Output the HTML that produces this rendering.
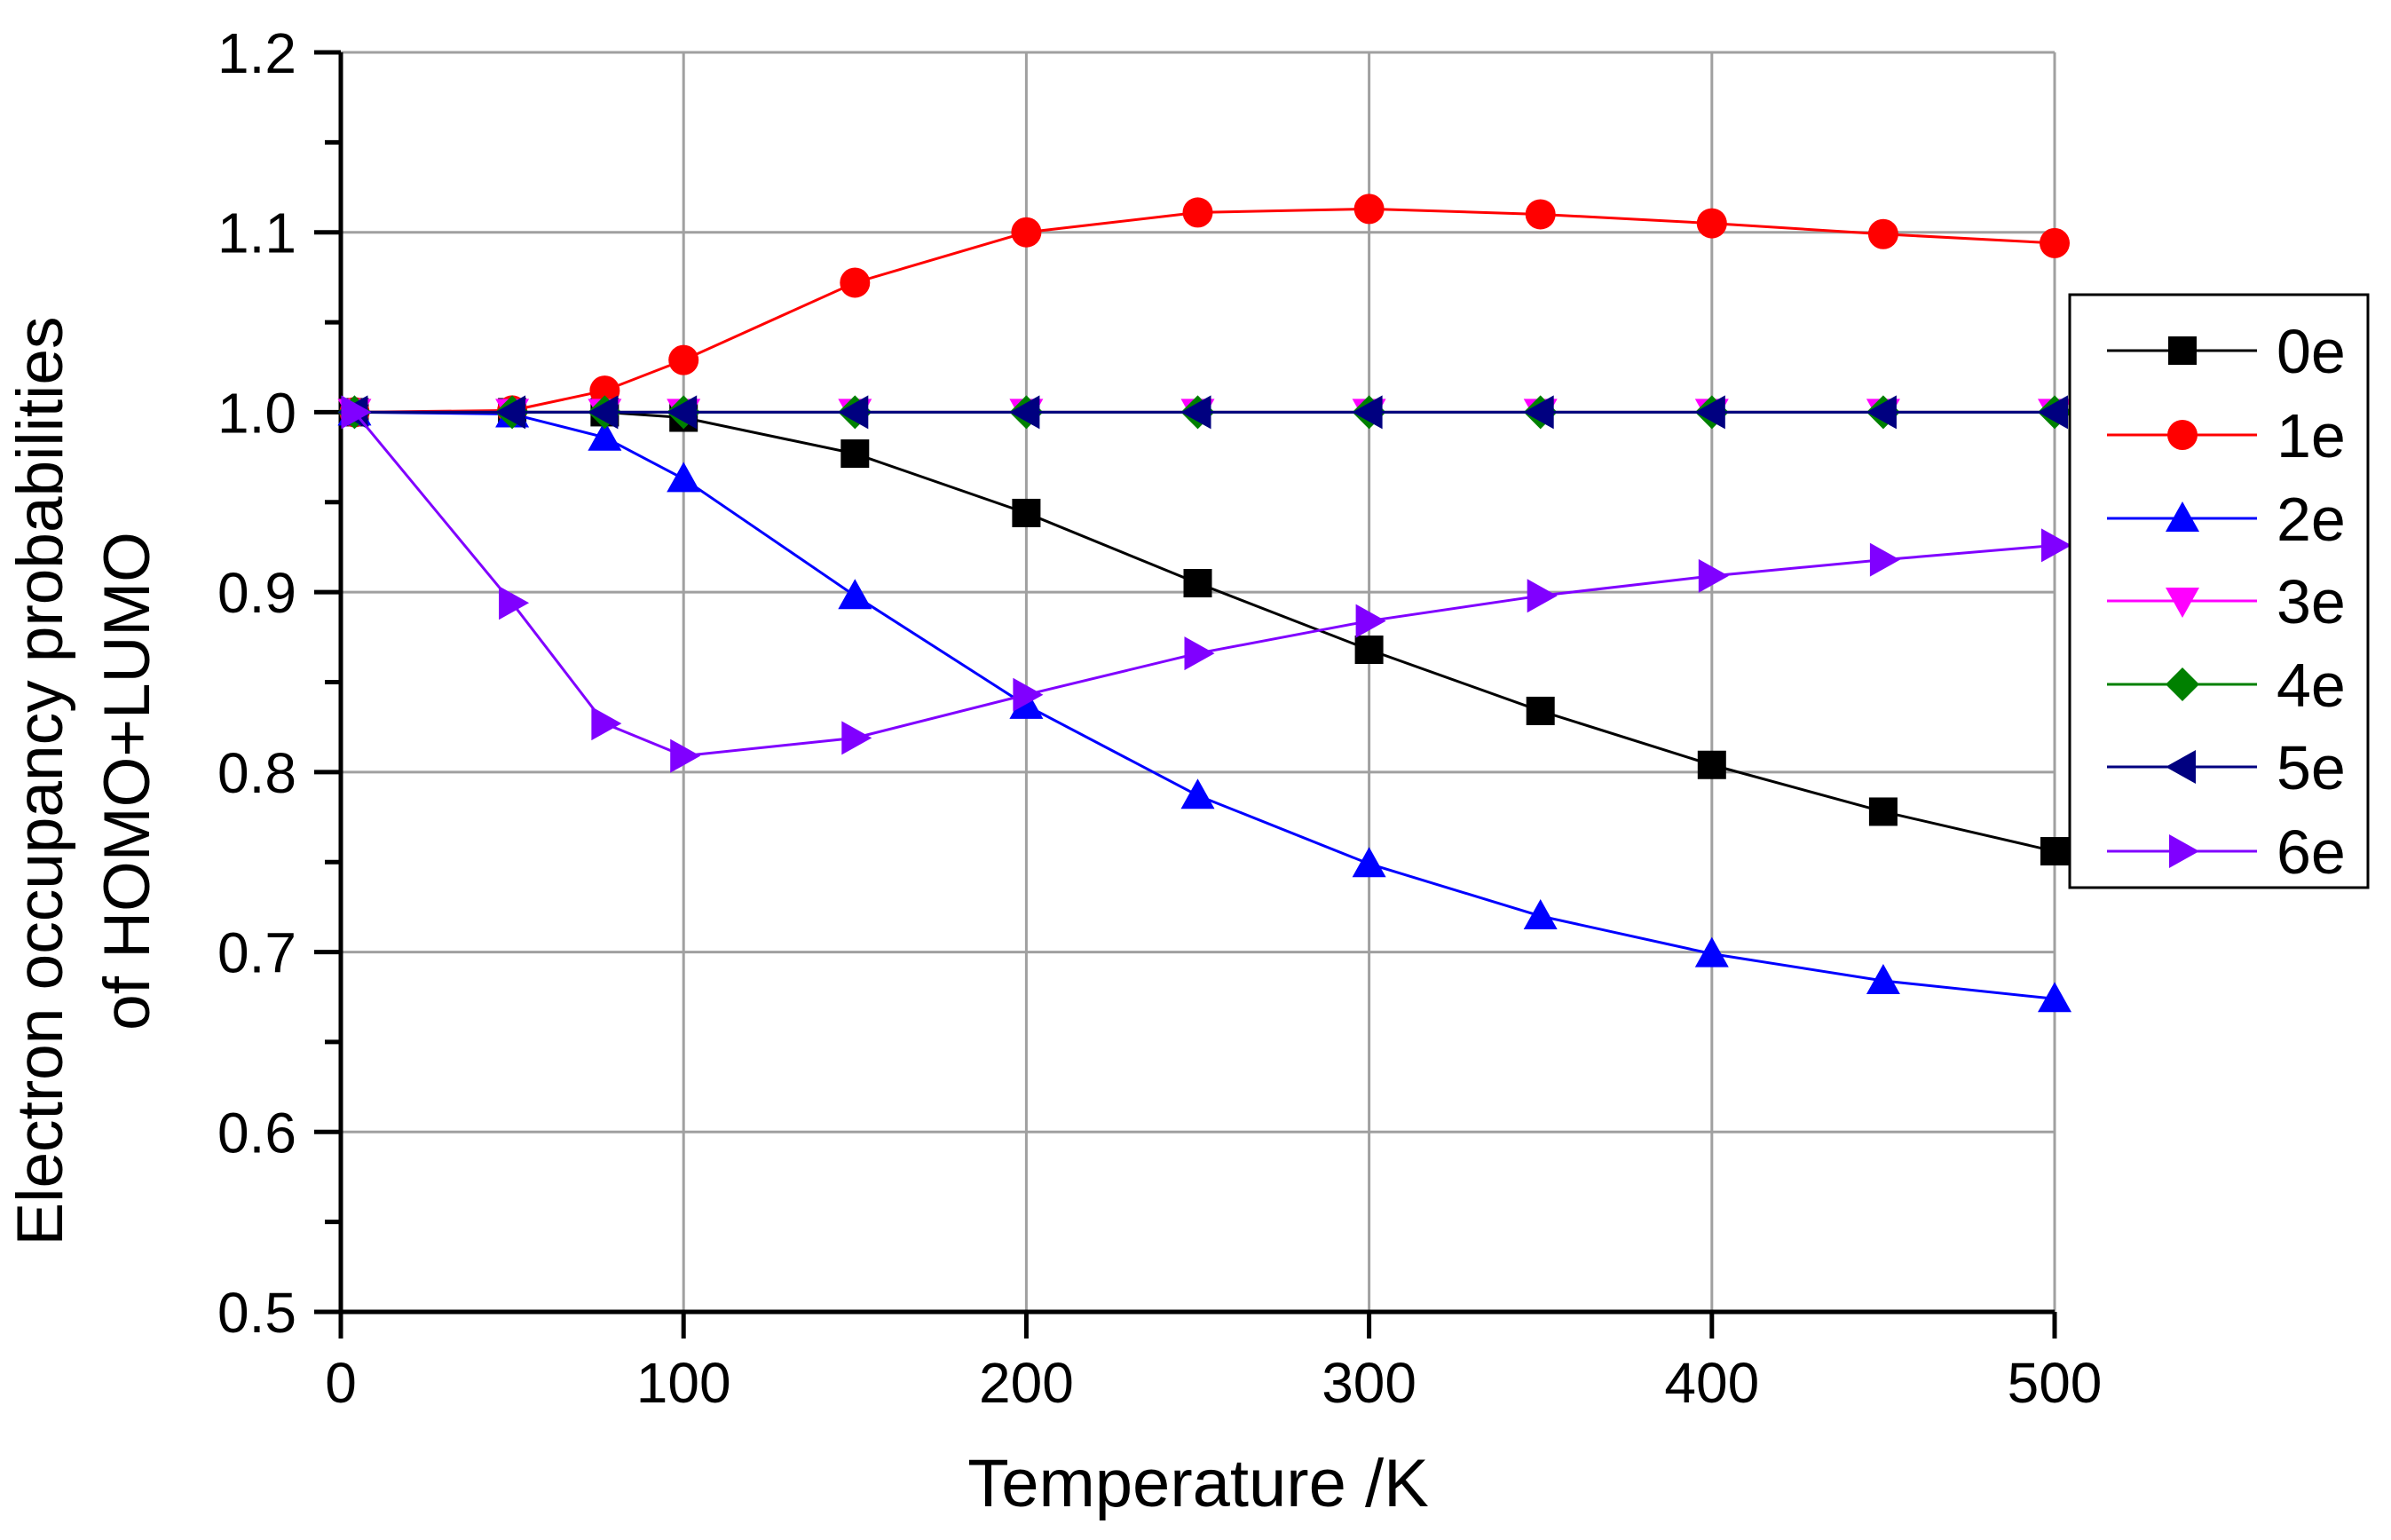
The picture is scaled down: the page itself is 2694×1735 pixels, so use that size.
<!DOCTYPE html>
<html><head><meta charset="utf-8"><style>
html,body{margin:0;padding:0;background:#fff;}
svg{display:block;font-family:"Liberation Sans",Arial,sans-serif;}
</style></head><body>
<svg id="chart" width="2694" height="1735" viewBox="0 0 2694 1735" xmlns="http://www.w3.org/2000/svg">
<g id="grid"></g>
<g id="axes"></g>
<g id="series"></g>
<g id="legend"></g>
<text x="1350" y="1697" font-size="76" text-anchor="middle">Temperature /K</text>
<text transform="translate(70,880) rotate(-90)" font-size="73" text-anchor="middle">Electron occupancy probabilities</text>
<text transform="translate(168,880) rotate(-90)" font-size="73" text-anchor="middle">of HOMO+LUMO</text>
</svg>
<script>
const temps = [4,50,77,100,150,200,250,300,350,400,450,500];
const s0e = [1,1,1.0,0.997,0.977,0.944,0.905,0.868,0.834,0.804,0.778,0.756];
const s1e = [1,1.001,1.012,1.029,1.072,1.100,1.111,1.113,1.110,1.105,1.099,1.094];
const s2e = [1,0.999,0.986,0.963,0.898,0.837,0.787,0.749,0.720,0.699,0.684,0.674];
const s3e = [1,1,1,1,1,1,1,1,1,1,1,1];
const s4e = [1,1,1,1,1,1,1,1,1,1,1,1];
const s5e = [1,1,1,1,1,1,1,1,1,1,1,1];
const s6e = [1,0.894,0.827,0.809,0.819,0.843,0.866,0.884,0.898,0.909,0.918,0.926];
const seriesNames = ["0e","1e","2e","3e","4e","5e","6e"];
const xTicks = [0,100,200,300,400,500];
const yTicks = [0.5,0.6,0.7,0.8,0.9,1.0,1.1,1.2];

const NS="http://www.w3.org/2000/svg";
const X0=384,X1=2315,Y0=1478,Y1=59;
const xs=v=>X0+(v-0)/(500-0)*(X1-X0);
const ys=v=>Y0-(v-0.5)/(1.2-0.5)*(Y0-Y1);
function mk(tag,attrs,parent){const e=document.createElementNS(NS,tag);for(const k in attrs)e.setAttribute(k,attrs[k]);parent.appendChild(e);return e;}
const grid=document.getElementById('grid'),axes=document.getElementById('axes'),ser=document.getElementById('series'),leg=document.getElementById('legend');

xTicks.forEach(t=>{
  if(t>0){const g=mk('line',{x1:xs(t),x2:xs(t),y1:Y1,y2:Y0,stroke:'#a0a0a0','stroke-width':3},grid);
  
  }
  const tk=mk('line',{x1:xs(t),x2:xs(t),y1:Y0,y2:Y0+30,stroke:'#000','stroke-width':5},axes);
  
  
  const lb=mk('text',{x:xs(t),y:Y0+102,'font-size':64,'text-anchor':'middle'},axes);lb.textContent=t;
  
  
});
yTicks.forEach(t=>{
  if(t>0.5){const g=mk('line',{x1:X0,x2:X1,y1:ys(t),y2:ys(t),stroke:'#a0a0a0','stroke-width':3},grid);
  
  }
  const tk=mk('line',{x1:X0-30,x2:X0,y1:ys(t),y2:ys(t),stroke:'#000','stroke-width':5},axes);
  
  
  if(t<1.2){const m=mk('line',{x1:X0-18,x2:X0,y1:ys(t+0.05),y2:ys(t+0.05),stroke:'#000','stroke-width':5},axes);
  
  }
  const lb=mk('text',{x:X0-50,y:ys(t)+23,'font-size':64,'text-anchor':'end'},axes);lb.textContent=t.toFixed(1);
  
  
});
const ax=mk('path',{d:`M${X0},${Y1} L${X0},${Y0} L${X1},${Y0}`,fill:'none',stroke:'#000','stroke-width':5},axes);



const colors=['#000000','#ff0000','#0000ff','#ff00ff','#008000','#000080','#8000ff'];
const shapes=['square','circle','up','down','diamond','left','right'];
const data=[s0e,s1e,s2e,s3e,s4e,s5e,s6e];
function marker(shape,x,y,c,p){
  const r=17;let e;
  if(shape==='square')e=mk('rect',{x:x-r+1,y:y-r+1,width:2*r-2,height:2*r-2,fill:c},p);
  else if(shape==='circle')e=mk('circle',{cx:x,cy:y,r:r,fill:c},p);
  else{let pts;
    if(shape==='up')pts=[[x,y-r-2],[x+r+2,y+r-2],[x-r-2,y+r-2]];
    if(shape==='down')pts=[[x,y+r+2],[x+r+2,y-r+2],[x-r-2,y-r+2]];
    if(shape==='diamond')pts=[[x,y-r-2],[x+r+2,y],[x,y+r+2],[x-r-2,y]];
    if(shape==='left')pts=[[x-r-2,y],[x+r-2,y-r-2],[x+r-2,y+r+2]];
    if(shape==='right')pts=[[x+r+2,y],[x-r+2,y-r-2],[x-r+2,y+r+2]];
    e=mk('polygon',{points:pts.map(q=>q.join(',')).join(' '),fill:c},p);}
  return e;
}
data.forEach((arr,i)=>{
  const g=mk('g',{},ser);
  
  
  const pl=mk('polyline',{points:arr.map((v,j)=>xs(temps[j])+','+ys(v)).join(' '),fill:'none',stroke:colors[i],'stroke-width':3},g);
  
  
  arr.forEach((v,j)=>{const m=marker(shapes[i],xs(temps[j]),ys(v),colors[i],g);
    
    });
});
const box=mk('rect',{x:2332,y:332,width:336,height:668,fill:'#fff',stroke:'#000','stroke-width':3},leg);


const ly=[395,490,584,677,771,864,959];
seriesNames.forEach((n,i)=>{
  const g=mk('g',{},leg);
  
  
  mk('line',{x1:2374,x2:2543,y1:ly[i],y2:ly[i],stroke:colors[i],'stroke-width':3},g);
  marker(shapes[i],2459,ly[i],colors[i],g);
  const t=mk('text',{x:2565,y:ly[i]+25,'font-size':70},g);t.textContent=n;
});
</script>
</body></html>
